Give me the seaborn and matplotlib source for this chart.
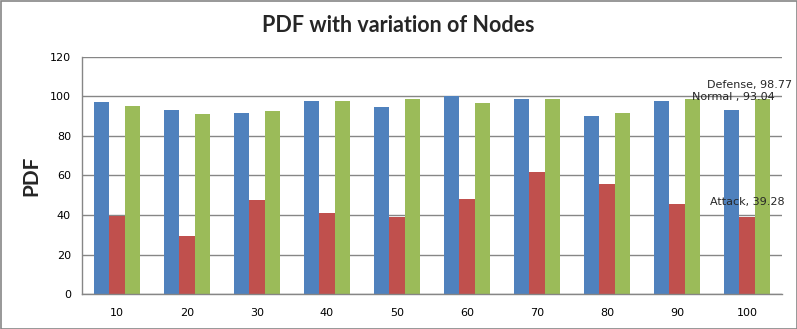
import matplotlib
matplotlib.use("Agg")
import matplotlib.pyplot as plt
import seaborn as sns
import pandas as pd
from matplotlib.patches import Rectangle

nodes = ["10", "20", "30", "40", "50", "60", "70", "80", "90", "100"]
normal = [97.1, 93.1, 91.6, 97.6, 94.6, 100.0, 98.6, 90.1, 97.6, 93.04]
attack = [39.7, 29.4, 47.6, 41.1, 39.0, 48.1, 61.8, 55.7, 45.6, 39.28]
defense = [95.1, 91.1, 92.6, 97.6, 98.6, 96.6, 98.6, 91.6, 98.6, 98.77]
series = ["Normal", "Attack", "Defense"]
colors = ["#4F81BD", "#C0504D", "#9BBB59"]
yticks = [0, 20, 40, 60, 80, 100, 120]

rows = []
for name, vals in zip(series, [normal, attack, defense]):
    for n, v in zip(nodes, vals):
        rows.append({"Nodes": n, "Series": name, "PDF": v})
df = pd.DataFrame(rows)

sns.set_style("white")
plt.rcParams["font.family"] = ["DejaVu Sans"]

fig = plt.figure(figsize=(7.97, 3.29), dpi=100)
ax = fig.add_axes([82/797, 1-294.3/329, (782-82)/797, (294.3-56.7)/329])

sns.barplot(data=df, x="Nodes", y="PDF", hue="Series", order=nodes,
            hue_order=series, palette=colors, width=0.67, saturation=1,
            linewidth=0, legend=False, ax=ax)

ax.set_ylim(0, 120)
ax.set_yticks(yticks)
ax.set_xlim(-0.5, 9.5)
ax.yaxis.grid(True, color="#868686", linewidth=1)
ax.set_axisbelow(True)
for s in ["top", "right"]:
    ax.spines[s].set_visible(False)
for s in ["left", "bottom"]:
    ax.spines[s].set_color("#868686")
    ax.spines[s].set_linewidth(1)
ax.tick_params(axis="both", length=0, labelsize=8, colors="black")
ax.tick_params(axis="y", pad=8)
ax.tick_params(axis="x", pad=10)
ax.set_xlabel("")
ax.set_ylabel("PDF", fontsize=15, fontweight="bold", family="Lato", labelpad=6)

last = len(nodes) - 1
ax.text(last + 0.03, defense[-1] + 7, f"Defense, {defense[-1]:.2f}",
        ha="center", va="center", fontsize=8)
ax.text(last - 0.2, normal[-1] + 6.6, f"Normal , {normal[-1]:.2f}",
        ha="center", va="center", fontsize=8)
ax.text(last, attack[-1] + 7.3, f"Attack, {attack[-1]:.2f}",
        ha="center", va="center", fontsize=8)

fig.text(0.5, 1-25/329, "PDF with variation of Nodes", ha="center",
         va="center", fontsize=15.5, fontweight="bold", family="Lato")

fig.patches.append(Rectangle((0.5/797, 0.5/329), 1-1/797, 1-1/329,
                             transform=fig.transFigure, fill=False,
                             edgecolor="#868686", linewidth=1.2))

fig.savefig("out.png", dpi=100)
